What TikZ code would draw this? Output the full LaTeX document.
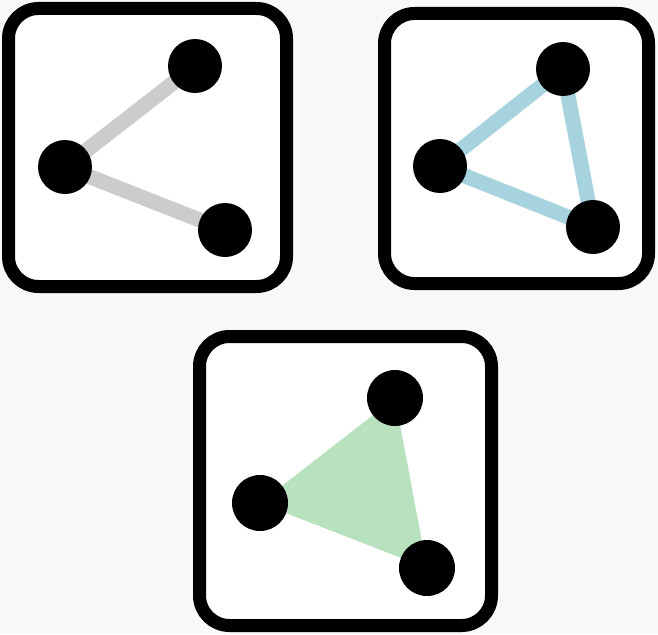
\documentclass[tikz,border=0pt]{standalone}
\pgfdeclarelayer{boxes}
\pgfdeclarelayer{edges}
\pgfsetlayers{boxes,edges,main}
\definecolor{bgcol}{HTML}{F8F8F8}
\definecolor{edgegray}{HTML}{CCCCCC}
\definecolor{edgeblue}{HTML}{A6D3DE}
\definecolor{facegreen}{HTML}{B8E2BE}
\tikzset{
  panel/.style={draw=black, fill=white, line width=13pt, rounded corners=30pt},
  dot/.style={circle, fill=black, minimum size=54pt, inner sep=0pt},
  link/.style={line width=15pt},
}
\begin{document}
\begin{tikzpicture}[x=1pt,y=-1pt]
\useasboundingbox (0,0) rectangle (658,634);
\begin{pgfonlayer}{boxes}
\fill[bgcol] (0,0) rectangle (658,634);
\draw[panel] (8.5,8.5) rectangle (286.5,286.5);
\draw[panel] (384.5,13.5) rectangle (648.5,283.5);
\draw[panel] (199.5,336.5) rectangle (491.5,625.5);
\end{pgfonlayer}
% panel 1
\node[dot] (a1) at (195,66) {};
\node[dot] (b1) at (65,167) {};
\node[dot] (c1) at (225,230) {};
% panel 2
\node[dot] (a2) at (563,69) {};
\node[dot] (b2) at (440,166) {};
\node[dot] (c2) at (593,227) {};
% panel 3
\node[dot, minimum size=56pt] (a3) at (395,398) {};
\node[dot, minimum size=56pt] (b3) at (260,503) {};
\node[dot, minimum size=56pt] (c3) at (427,568) {};
\begin{pgfonlayer}{edges}
\draw[link, edgegray] (b1.center) -- (a1.center);
\draw[link, edgegray] (b1.center) -- (c1.center);
\draw[link, edgeblue] (b2.center) -- (a2.center);
\draw[link, edgeblue] (a2.center) -- (c2.center);
\draw[link, edgeblue] (c2.center) -- (b2.center);
\fill[facegreen] (a3.center) -- (c3.center) -- (b3.center) -- cycle;
\end{pgfonlayer}
\end{tikzpicture}
\end{document}
